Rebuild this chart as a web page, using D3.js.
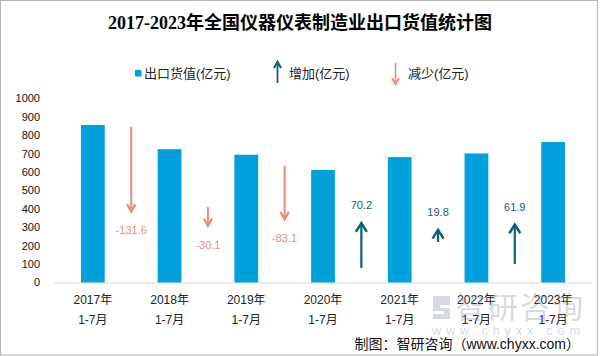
<!DOCTYPE html>
<html>
<head>
<meta charset="utf-8">
<script src="https://cdn.jsdelivr.net/npm/d3@7/dist/d3.min.js"></script>
<style>
  html, body { margin: 0; padding: 0; background: #fff; }
  svg { display: block; }
  text { font-family: "Liberation Sans", "Noto Sans CJK SC", sans-serif; }
</style>
</head>
<body>
<svg id="chart" width="601" height="356"></svg>
<script>
// ---- data ----
const categories = ["2017年|1-7月", "2018年|1-7月", "2019年|1-7月", "2020年|1-7月", "2021年|1-7月", "2022年|1-7月", "2023年|1-7月"];
const exportValues = [856.1, 724.5, 694.4, 611.3, 681.5, 701.3, 763.2];
const changeValues = [-131.6, -30.1, -83.1, 70.2, 19.8, 61.9];
const changeLabels = ["-131.6", "-30.1", "-83.1", "70.2", "19.8", "61.9"];
// arrow start values on the secondary (arrow) axis
const arrowBase = [239.7, 116.2, 179.2, 22.3, 62.3, 28.5];
const yTicks = [0, 100, 200, 300, 400, 500, 600, 700, 800, 900, 1000];
const titleText = "2017-2023年全国仪器仪表制造业出口货值统计图";
const legendLabels = ["出口货值(亿元)", "增加(亿元)", "减少(亿元)"];
const sourceText = "制图：智研咨询（www.chyxx.com）";

// ---- styles ----
const barColor = "#00A0DC";
const upColor = "#0D5F80";
const downColor = "#EE8B77";

const svg = d3.select("#chart");

// border
svg.append("rect").attr("x", 0.5).attr("y", 0.5).attr("width", 597).attr("height", 354.5)
  .attr("fill", "none").attr("stroke", "#b4b4b4").attr("stroke-width", 1);

// scales
const x = d3.scaleBand().domain(categories).range([54.5, 591.5]).paddingInner(0.69).paddingOuter(0.345);
const y = d3.scaleLinear().domain([0, 1000]).range([282.5, 98.5]);
const y2 = d3.scaleLinear().domain([0, 283]).range([282.5, 98.5]);

// title
svg.append("text").attr("x", 300).attr("y", 29).attr("text-anchor", "middle")
  .style("font-family", "'Liberation Serif', 'Noto Sans CJK SC', serif")
  .style("font-weight", "bold").style("font-size", "18px").attr("fill", "#000")
  .text(titleText);

// legend
const lg = svg.append("g");
lg.append("rect").attr("x", 135).attr("y", 70).attr("width", 6.5).attr("height", 6.5).attr("fill", barColor);
lg.append("text").attr("x", 144).attr("y", 78).style("font-size", "13px").attr("fill", "#222").text(legendLabels[0]);

function arrow(g, xp, y0, y1, color, hw, hl, sw) {
  const dir = y1 < y0 ? 1 : -1; // up => head opens downward
  g.append("line").attr("x1", xp).attr("x2", xp).attr("y1", y0).attr("y2", y1 + dir * 0.5)
    .attr("stroke", color).attr("stroke-width", sw);
  g.append("path")
    .attr("d", `M${xp - hw},${y1 + dir * hl} L${xp},${y1 + dir * 0.8} L${xp + hw},${y1 + dir * hl}`)
    .attr("fill", "none").attr("stroke", color).attr("stroke-width", sw + 0.3)
    .attr("stroke-linejoin", "miter").attr("stroke-linecap", "butt");
}
arrow(lg, 277.5, 83, 61, upColor, 3.5, 7, 1.8);
lg.append("text").attr("x", 289).attr("y", 78).style("font-size", "13px").attr("fill", "#222").text(legendLabels[1]);
arrow(lg, 395.5, 63, 85, downColor, 3.5, 7, 1.6);
lg.append("text").attr("x", 408).attr("y", 78).style("font-size", "13px").attr("fill", "#222").text(legendLabels[2]);

// y axis labels
const ya = svg.append("g");
ya.selectAll("text").data(yTicks).join("text")
  .attr("x", 40).attr("y", d => y(d)).attr("dy", "0.35em").attr("text-anchor", "end")
  .style("font-size", "11px").attr("fill", "#111").text(d => d);

// baseline
svg.append("line").attr("x1", 54).attr("x2", 592).attr("y1", y(0) + 0.5).attr("y2", y(0) + 0.5)
  .attr("stroke", "#d9d9d9").attr("stroke-width", 1);

// bars
svg.append("g").selectAll("rect").data(exportValues).join("rect")
  .attr("x", (d, i) => x(categories[i]))
  .attr("width", x.bandwidth())
  .attr("y", d => y(d))
  .attr("height", d => y(0) - y(d))
  .attr("fill", barColor);

// x labels
const xl = svg.append("g");
categories.forEach(c => {
  const parts = c.split("|");
  const cx = x(c) + x.bandwidth() / 2;
  xl.append("text").attr("x", cx).attr("y", 304).attr("text-anchor", "middle")
    .style("font-size", "12px").attr("fill", "#222").text(parts[0]);
  xl.append("text").attr("x", cx).attr("y", 324).attr("text-anchor", "middle")
    .style("font-size", "12px").attr("fill", "#222").text(parts[1]);
});

// change arrows
const ag = svg.append("g");
changeValues.forEach((v, i) => {
  const xp = (x(categories[i]) + x(categories[i + 1])) / 2 + x.bandwidth() / 2;
  const yStart = y2(arrowBase[i]);
  const yEnd = y2(arrowBase[i] + v);
  const up = v > 0;
  if (up) {
    arrow(ag, xp, yStart, yEnd, upColor, 5.5, 9.5, 2.2);
    ag.append("text").attr("x", xp).attr("y", yEnd - 13).attr("text-anchor", "middle")
      .style("font-size", "11px").attr("fill", upColor).text(changeLabels[i]);
  } else {
    arrow(ag, xp, yStart, yEnd, downColor, 4.2, 8, 2);
    ag.append("text").attr("x", xp).attr("y", yEnd + 22).attr("text-anchor", "middle")
      .style("font-size", "11px").attr("fill", downColor).text(changeLabels[i]);
  }
});

// watermark
const wm = svg.append("g").attr("opacity", 0.3).attr("fill", "#7d879c");
wm.append("path").attr("d", "M433,296 h17 v9 h-10 v3 h10 v11 h-17 v-5 h11 v-3 h-11 z");
wm.append("text").attr("x", 455).attr("y", 318).style("font-size", "30px")
  .style("font-family", "'Noto Sans CJK SC', sans-serif").attr("textLength", 128).text("智研咨询");
wm.append("text").attr("x", 432).attr("y", 335).style("font-size", "13px")
  .attr("textLength", 148).attr("lengthAdjust", "spacing").text("www.chyxx.com");

// source
svg.append("text").attr("x", 580).attr("y", 349).attr("text-anchor", "end")
  .style("font-size", "14px").attr("fill", "#111").text(sourceText);
</script>
</body>
</html>
